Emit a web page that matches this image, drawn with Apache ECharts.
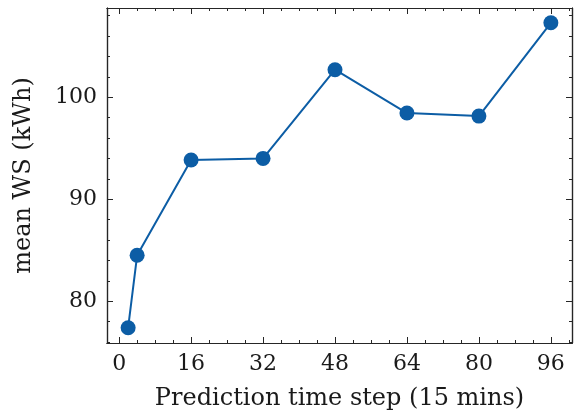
<!DOCTYPE html>
<html>
<head>
<meta charset="utf-8">
<script src="https://cdn.jsdelivr.net/npm/echarts@6/dist/echarts.min.js"></script>
<style>
  html, body { margin: 0; padding: 0; background: #ffffff; }
  #chart { width: 574px; height: 418px; }
</style>
</head>
<body>
<div id="chart"></div>
<script>
// Prediction horizon (in 15-minute steps) and the mean WS at each horizon
const steps = [2, 4, 16, 32, 48, 64, 80, 96];
const meanWS = [77.4, 84.5, 93.85, 94.0, 102.7, 98.45, 98.15, 107.3];

// Tick positions
const xMajorTicks = [0, 16, 32, 48, 64, 80, 96];
const xMinorTicks = [0, 4, 8, 12, 16, 20, 24, 28, 32, 36, 40, 44, 48, 52, 56, 60, 64, 68, 72, 76, 80, 84, 88, 92, 96, 100];
const yMajorTicks = [80, 90, 100];
const yMinorTicks = [76, 78, 80, 82, 84, 86, 88, 90, 92, 94, 96, 98, 100, 102, 104, 106, 108];

const xRange = [-2.7, 100.7];
const yRange = [75.9, 108.75];

const FONT = 'DejaVu Serif';
const INK = '#262626';
const TEXT = '#1a1a1a';
const BLUE = '#0C5DA5';

function makeAxis(range, position, values, tickLen, labelMargin, extra) {
  return Object.assign({
    type: 'value',
    position: position,
    min: range[0],
    max: range[1],
    axisLine: { show: true, onZero: false, lineStyle: { color: INK, width: 1.2 } },
    axisTick: {
      show: true, inside: true, length: tickLen, customValues: values,
      lineStyle: { color: INK, width: 1 }
    },
    axisLabel: labelMargin
      ? { show: true, customValues: values, fontFamily: FONT, fontSize: 22, color: TEXT, margin: labelMargin }
      : { show: false },
    splitLine: { show: false },
    minorTick: { show: false }
  }, extra || {});
}

const chart = echarts.init(document.getElementById('chart'), null, { renderer: 'canvas' });

chart.setOption({
  animation: false,
  backgroundColor: '#ffffff',
  grid: { left: 107, right: 2, top: 8, bottom: 75, containLabel: false },
  xAxis: [
    makeAxis(xRange, 'bottom', xMajorTicks, 6, 10, {
      name: 'Prediction time step (15 mins)',
      nameLocation: 'middle',
      nameGap: 44,
      nameTextStyle: { fontFamily: FONT, fontSize: 24, color: TEXT }
    }),
    makeAxis(xRange, 'bottom', xMinorTicks, 3, 0),
    makeAxis(xRange, 'top', xMajorTicks, 6, 0),
    makeAxis(xRange, 'top', xMinorTicks, 3, 0)
  ],
  yAxis: [
    makeAxis(yRange, 'left', yMajorTicks, 6, 10, {
      name: 'mean WS (kWh)',
      nameLocation: 'middle',
      nameGap: 71,
      nameTextStyle: { fontFamily: FONT, fontSize: 24, color: TEXT }
    }),
    makeAxis(yRange, 'left', yMinorTicks, 3, 0),
    makeAxis(yRange, 'right', yMajorTicks, 6, 0),
    makeAxis(yRange, 'right', yMinorTicks, 3, 0)
  ],
  series: [{
    type: 'line',
    xAxisIndex: 0,
    yAxisIndex: 0,
    data: steps.map((s, i) => [s, meanWS[i]]),
    symbol: 'circle',
    symbolSize: 15,
    lineStyle: { color: BLUE, width: 2 },
    itemStyle: { color: BLUE },
    emphasis: { disabled: true }
  }]
});
</script>
</body>
</html>
